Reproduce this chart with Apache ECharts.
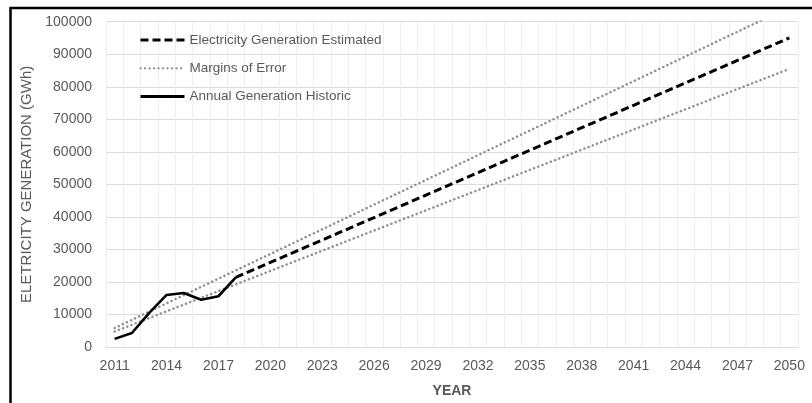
<!DOCTYPE html>
<html>
<head>
<meta charset="utf-8">
<script src="https://cdn.jsdelivr.net/npm/echarts@6/dist/echarts.min.js"></script>
<style>
html,body{margin:0;padding:0;background:#fff;}
#chart{width:812px;height:403px;}
</style>
</head>
<body>
<div id="chart"></div>
<script>
var years = ['2011','2012','2013','2014','2015','2016','2017','2018','2019','2020','2021','2022','2023','2024','2025','2026','2027','2028','2029','2030','2031','2032','2033','2034','2035','2036','2037','2038','2039','2040','2041','2042','2043','2044','2045','2046','2047','2048','2049','2050'];

var historic = [2500, 4300, 10500, 16000, 16600, 14500, 15600, 21400, null, null, null, null, null, null, null, null, null, null, null, null, null, null, null, null, null, null, null, null, null, null, null, null, null, null, null, null, null, null, null, null];

var estimated = [null, null, null, null, null, null, null, 21400, 23700, 26000, 28300, 30600, 32900, 35200, 37500, 39800, 42100, 44400, 46700, 49000, 51300, 53600, 55900, 58200, 60500, 62800, 65100, 67400, 69700, 72000, 74300, 76600, 78900, 81200, 83500, 85800, 88100, 90400, 92700, 95000];

var marginUpper = [5830, 8360, 10890, 13420, 15950, 18480, 21010, 23540, 26070, 28600, 31130, 33660, 36190, 38720, 41250, 43780, 46310, 48840, 51370, 53900, 56430, 58960, 61490, 64020, 66550, 69080, 71610, 74140, 76670, 79200, 81730, 84260, 86790, 89320, 91850, 94380, 96910, 99440, 101970, 104500];

var marginLower = [4770, 6840, 8910, 10980, 13050, 15120, 17190, 19260, 21330, 23400, 25470, 27540, 29610, 31680, 33750, 35820, 37890, 39960, 42030, 44100, 46170, 48240, 50310, 52380, 54450, 56520, 58590, 60660, 62730, 64800, 66870, 68940, 71010, 73080, 75150, 77220, 79290, 81360, 83430, 85500];

var yTicks = [0, 10000, 20000, 30000, 40000, 50000, 60000, 70000, 80000, 90000, 100000];

var chart = echarts.init(document.getElementById('chart'), null, {renderer: 'canvas'});
var txt = '#595959';
var font = 'Liberation Sans';
var dotStyle = {color: '#8f8f8f', width: 2.5, type: [0.1, 4.4], cap: 'round'};

chart.setOption({
  animation: false,
  backgroundColor: '#ffffff',
  graphic: [{
    type: 'rect',
    shape: {x: 10.5, y: 8, width: 820, height: 420},
    style: {fill: 'none', stroke: '#000', lineWidth: 2.5},
    silent: true,
    z: 100
  }],
  grid: {left: 106, right: 14, top: 21.7, bottom: 54, containLabel: false},
  legend: {
    show: true,
    left: 134, top: 28,
    orient: 'vertical',
    itemWidth: 44, itemHeight: 14, itemGap: 14.3,
    itemStyle: {opacity: 0, borderWidth: 0},
    textStyle: {color: txt, fontFamily: font, fontSize: 13.5},
    data: [
      {name: 'Electricity Generation Estimated', lineStyle: {width: 3}},
      {name: 'Margins of Error', lineStyle: {width: 2.3}},
      {name: 'Annual Generation Historic', lineStyle: {width: 3}}
    ]
  },
  xAxis: {
    type: 'category',
    data: years,
    boundaryGap: true,
    name: 'YEAR',
    nameLocation: 'middle',
    nameGap: 37,
    nameTextStyle: {color: txt, fontFamily: font, fontSize: 14, fontWeight: 'bold'},
    axisLine: {show: true, lineStyle: {color: '#d9d9d9', width: 1}},
    axisTick: {show: false},
    axisLabel: {interval: 2, color: txt, fontFamily: font, fontSize: 14, margin: 12},
    splitLine: {show: true, interval: 0, lineStyle: {color: '#efefef', width: 1}}
  },
  yAxis: {
    type: 'value',
    min: 0, max: 100000, interval: 10000,
    name: 'ELETRICITY GENERATION (GWh)',
    nameLocation: 'middle',
    nameGap: 68,
    nameTextStyle: {color: txt, fontFamily: font, fontSize: 15},
    axisLine: {show: false},
    axisTick: {show: false},
    axisLabel: {color: txt, fontFamily: font, fontSize: 14, margin: 14,
      formatter: function (v) { return yTicks.indexOf(v) >= 0 ? String(v) : ''; }},
    splitLine: {show: true, lineStyle: {color: '#dcdcdc', width: 1}}
  },
  series: [
    {
      name: 'Margins of Error', type: 'line', data: marginUpper,
      symbol: 'none', clip: true, z: 2,
      lineStyle: dotStyle,
      itemStyle: {color: '#8f8f8f'}
    },
    {
      name: 'Margins of Error', type: 'line', data: marginLower,
      symbol: 'none', clip: true, z: 2,
      lineStyle: dotStyle,
      itemStyle: {color: '#8f8f8f'}
    },
    {
      name: 'Electricity Generation Estimated', type: 'line', data: estimated,
      symbol: 'none', clip: true, z: 3,
      lineStyle: {color: '#000', width: 3, type: [8, 4]},
      itemStyle: {color: '#000'}
    },
    {
      name: 'Annual Generation Historic', type: 'line', data: historic,
      symbol: 'none', clip: true, z: 4,
      lineStyle: {color: '#000', width: 2.6},
      itemStyle: {color: '#000'}
    }
  ]
});
</script>
</body>
</html>
